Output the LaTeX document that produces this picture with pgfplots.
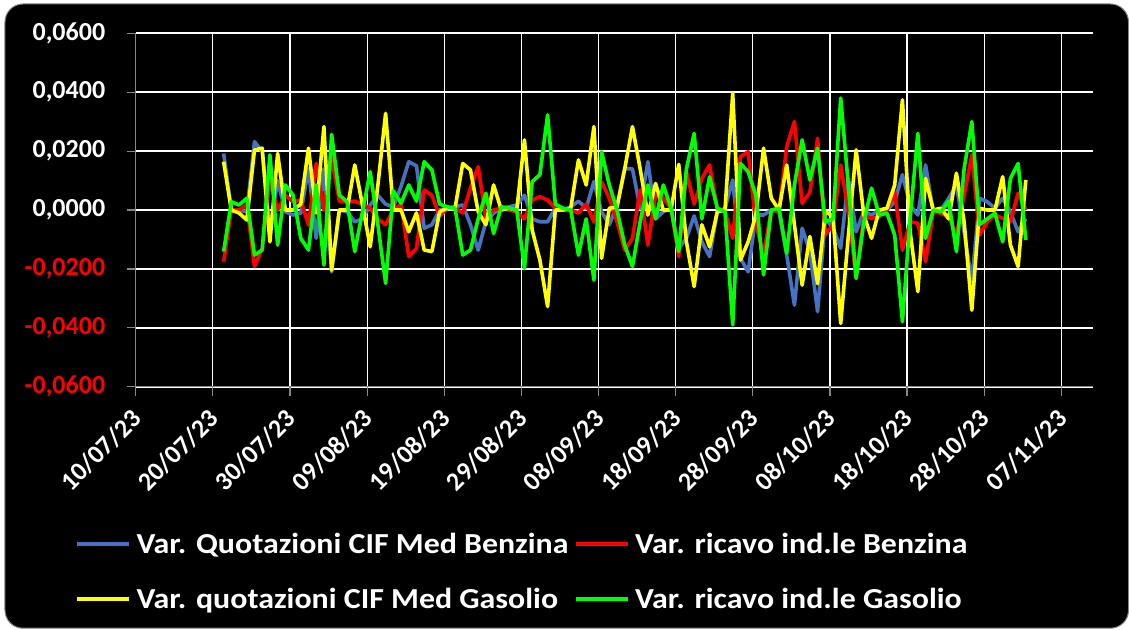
\documentclass[border=0pt]{standalone}
\usepackage{fontspec}
\setmainfont{Carlito}
\newfontfamily\legfont{Carlito}[FakeStretch=1.1]
\usepackage{pgfplots}
\usepackage{pgfplotstable}
\pgfplotsset{compat=1.18}
\definecolor{sBlue}{HTML}{4472C4}
\definecolor{sRed}{HTML}{FF0000}
\definecolor{sYellow}{HTML}{FFFF00}
\definecolor{sGreen}{HTML}{00FF00}
\definecolor{axGray}{HTML}{868686}

% n = days after 10/07/23
\pgfplotstableread{
n B R Y G
11 0.0192 -0.0175 0.0164 -0.0141
12 0.0000 0.0000 0.0000 0.0028
13 0.0000 0.0000 -0.0010 0.0017
14 -0.0006 0.0017 -0.0034 0.0040
15 0.0232 -0.0192 0.0204 -0.0153
16 0.0198 -0.0130 0.0210 -0.0136
17 -0.0074 0.0107 -0.0108 0.0187
18 0.0100 0.0000 0.0192 -0.0119
19 -0.0006 0.0050 0.0000 0.0085
20 -0.0017 0.0028 0.0000 0.0051
21 -0.0011 0.0034 0.0020 -0.0096
22 0.0141 -0.0051 0.0210 -0.0136
23 -0.0096 0.0158 -0.0010 0.0085
24 0.0140 0.0000 0.0283 -0.0187
25 -0.0210 0.0175 -0.0204 0.0257
26 0.0000 0.0030 0.0000 0.0051
27 -0.0006 0.0028 0.0000 0.0028
28 -0.0040 0.0030 0.0153 -0.0141
29 -0.0030 0.0020 0.0017 -0.0006
30 0.0017 0.0006 -0.0125 0.0130
31 0.0050 -0.0030 0.0085 -0.0050
32 0.0020 -0.0050 0.0328 -0.0249
33 0.0010 0.0000 0.0000 0.0065
34 0.0080 0.0020 0.0000 0.0023
35 0.0164 -0.0158 -0.0074 0.0085
36 0.0150 -0.0130 -0.0010 0.0030
37 -0.0062 0.0068 -0.0136 0.0164
38 -0.0050 0.0050 -0.0141 0.0136
39 0.0000 -0.0020 -0.0006 0.0020
40 0.0006 0.0006 0.0006 0.0011
41 0.0011 0.0006 0.0006 0.0006
42 0.0017 -0.0010 0.0158 -0.0153
43 -0.0050 0.0074 0.0136 -0.0136
44 -0.0136 0.0147 -0.0006 -0.0030
45 -0.0040 -0.0030 -0.0050 0.0057
46 -0.0011 0.0000 0.0085 -0.0080
47 0.0006 0.0006 0.0000 0.0011
48 0.0011 0.0000 0.0006 0.0006
49 0.0017 -0.0006 0.0000 0.0000
50 0.0050 -0.0030 0.0238 -0.0198
51 -0.0030 0.0034 -0.0068 0.0096
52 -0.0040 0.0045 -0.0170 0.0120
53 -0.0040 0.0034 -0.0328 0.0323
54 0.0006 0.0006 0.0000 0.0020
55 0.0000 0.0000 0.0000 0.0006
56 0.0011 0.0000 0.0006 0.0000
57 0.0030 -0.0010 0.0170 -0.0153
58 0.0006 0.0020 0.0085 -0.0030
59 0.0096 -0.0040 0.0283 -0.0238
60 -0.0006 0.0096 -0.0164 0.0198
61 -0.0050 0.0040 0.0006 0.0085
62 0.0017 -0.0040 0.0010 0.0000
63 0.0140 -0.0136 0.0140 -0.0119
64 0.0140 -0.0096 0.0283 -0.0192
65 0.0006 0.0068 0.0140 -0.0040
66 0.0164 -0.0119 -0.0017 0.0085
67 -0.0030 0.0050 0.0090 -0.0030
68 -0.0006 0.0040 0.0000 0.0085
69 0.0006 0.0006 0.0000 0.0006
70 -0.0130 -0.0158 0.0155 -0.0141
71 -0.0096 0.0130 -0.0108 0.0140
72 -0.0020 0.0020 -0.0260 0.0260
73 -0.0108 0.0107 -0.0050 -0.0030
74 -0.0158 0.0153 -0.0125 0.0113
75 -0.0006 0.0006 -0.0006 0.0006
76 0.0006 -0.0006 0.0000 -0.0006
77 0.0102 -0.0096 0.0396 -0.0390
78 -0.0164 0.0181 -0.0170 0.0158
79 -0.0210 0.0198 -0.0108 0.0130
80 -0.0017 -0.0050 -0.0017 0.0050
81 -0.0017 -0.0150 0.0210 -0.0220
82 0.0000 0.0000 0.0040 0.0000
83 -0.0006 -0.0006 0.0000 0.0006
84 -0.0153 0.0215 0.0153 -0.0147
85 -0.0323 0.0300 -0.0050 0.0085
86 -0.0062 0.0023 -0.0255 0.0238
87 -0.0141 0.0060 -0.0090 0.0102
88 -0.0345 0.0243 -0.0250 0.0210
89 -0.0030 -0.0085 -0.0006 -0.0040
90 -0.0060 -0.0050 -0.0020 -0.0030
91 -0.0130 0.0153 -0.0385 0.0380
92 0.0107 -0.0006 -0.0085 0.0080
93 -0.0074 -0.0232 0.0204 -0.0232
94 -0.0006 -0.0020 -0.0017 -0.0040
95 -0.0017 -0.0028 -0.0096 0.0074
96 0.0000 -0.0023 0.0000 -0.0017
97 0.0000 0.0000 0.0006 -0.0011
98 0.0028 0.0060 0.0085 -0.0085
99 0.0120 -0.0136 0.0374 -0.0379
100 0.0017 -0.0040 -0.0074 -0.0030
101 -0.0017 -0.0045 -0.0277 0.0260
102 0.0153 -0.0175 0.0107 -0.0096
103 -0.0006 -0.0006 0.0000 0.0000
104 0.0000 -0.0011 0.0006 -0.0006
105 0.0040 -0.0023 -0.0030 0.0030
106 0.0085 -0.0085 0.0125 -0.0141
107 -0.0074 0.0050 -0.0040 0.0140
108 -0.0243 0.0187 -0.0340 0.0300
109 0.0040 -0.0085 0.0006 -0.0050
110 0.0028 -0.0040 0.0000 -0.0030
111 0.0006 -0.0017 0.0000 -0.0011
112 0.0040 -0.0028 0.0113 -0.0108
113 -0.0006 -0.0040 -0.0119 0.0107
114 -0.0074 0.0057 -0.0192 0.0158
115 -0.0030 0.0000 0.0102 -0.0102
}\datatable

\begin{document}
\begin{tikzpicture}[x=1pt,y=1pt]
% image pixel (px,py) -> (px-135.7, 386.7-py)
\fill[white] (-135.7,386.7) rectangle (993.3,-242.3);
\filldraw[fill=black, draw=axGray, line width=1pt, rounded corners=18pt] (-130.7,382.7) rectangle (992.8,-241.5);
\begin{axis}[
  at={(0,0)}, anchor=south west,
  scale only axis, width=957pt, height=353.4pt,
  xmin=0, xmax=124.07, ymin=-0.06, ymax=0.06,
  scaled y ticks=false, scaled x ticks=false,
  axis x line*=bottom, axis y line*=left,
  axis line style={-, draw=axGray, line width=1.3pt},
  xtick={0,10,20,30,40,50,60,70,80,90,100,110,120},
  xticklabels={10/07/23,20/07/23,30/07/23,09/08/23,19/08/23,29/08/23,08/09/23,18/09/23,28/09/23,08/10/23,18/10/23,28/10/23,07/11/23},
  ytick={-0.06,-0.04,-0.02,0,0.02,0.04,0.06},
  yticklabels={{\textcolor{sRed}{-0,0600}},{\textcolor{sRed}{-0,0400}},{\textcolor{sRed}{-0,0200}},{0,0000},{0,0200},{0,0400},{0,0600}},
  tick align=outside, major tick length=9pt,
  tick style={axGray, line width=1.2pt},
  xmajorgrids, ymajorgrids,
  x grid style={white, line width=1.2pt},
  y grid style={white, line width=2pt},
  yticklabel style={font=\fontsize{26}{30}\selectfont\bfseries, text=white, anchor=east, xshift=-18pt},
  xticklabel style={font=\fontsize{26}{30}\selectfont\bfseries, text=white, rotate=45, anchor=east, xshift=-9pt, yshift=-14pt},
  legend columns=2,
  legend cell align=left,
  legend style={draw=none, fill=none, text=white, font=\legfont\fontsize{29}{33}\selectfont\bfseries,
    at={(-0.063,-0.41)}, anchor=north west, inner sep=0pt,
    nodes={inner sep=1.5pt}, column sep=4pt, row sep=30pt},
  legend image code/.code={\draw[#1, line width=3.5pt] (0pt,0pt) -- (52pt,0pt);},
  every axis plot/.append style={line width=3.6pt, line join=round},
]
\addplot[sBlue] table[x expr=\thisrow{n}+0.4, y=B] {\datatable};
\addlegendentry{Var. Quotazioni CIF Med Benzina}
\addplot[sRed] table[x expr=\thisrow{n}+0.4, y=R] {\datatable};
\addlegendentry{Var. ricavo ind.le Benzina}
\addplot[sYellow] table[x expr=\thisrow{n}+0.4, y=Y] {\datatable};
\addlegendentry{Var. quotazioni CIF Med Gasolio}
\addplot[sGreen] table[x expr=\thisrow{n}+0.4, y=G] {\datatable};
\addlegendentry{Var. ricavo ind.le Gasolio}
\end{axis}
\pgfresetboundingbox
\useasboundingbox (-135.7,-242.3) rectangle (993.3,386.7);
\end{tikzpicture}
\end{document}
